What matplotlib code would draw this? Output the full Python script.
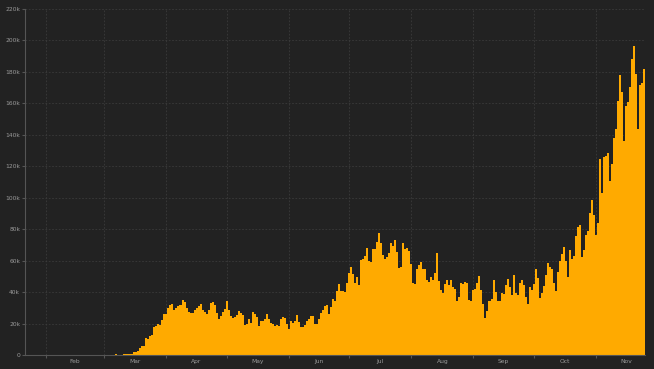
import numpy as np
import pandas as pd
import matplotlib
matplotlib.use("Agg")
import matplotlib.pyplot as plt
import matplotlib.dates as mdates
from matplotlib.ticker import FuncFormatter

# Daily new cases (thousands), one value per day from 2020-01-22
start_date = "2020-01-22"
jan_feb = [0.0] * 39
march = [0.02, 0.03, 0.05, 0.03, 0.07, 0.1, 0.6, 0.15, 0.2, 0.3, 0.45, 0.45, 0.6, 0.6, 0.8,
         1.7, 2.0, 2.8, 4.5, 6.0, 6.0, 11.0, 10.0, 12.0, 12.5, 17.8, 18.6, 19.5, 19.1, 22.0, 25.9]
april = [25.9, 29.9, 31.6, 32.6, 28.3, 30.0, 31.0, 32.0, 34.7, 33.5, 30.0, 27.3, 26.4, 27.0, 28.5,
         30.0, 31.0, 32.6, 28.3, 27.5, 25.9, 28.5, 33.0, 33.5, 32.0, 26.5, 22.8, 24.8, 27.6, 29.0]
may = [34.2, 28.3, 24.8, 23.5, 24.4, 25.2, 27.8, 26.7, 25.2, 19.3, 19.7, 22.7, 20.5, 27.4, 25.9,
       24.4, 18.5, 21.8, 21.4, 23.1, 25.9, 23.1, 20.5, 19.5, 18.5, 19.3, 18.5, 22.7, 24.4, 23.7, 19.7]
june = [16.8, 21.4, 20.5, 21.4, 25.2, 21.2, 18.0, 17.6, 18.9, 21.4, 23.1, 25.0, 25.0, 19.4, 19.4,
        23.2, 26.5, 28.3, 31.2, 31.6, 26.1, 30.8, 35.8, 34.5, 40.4, 45.1, 40.9, 40.4, 40.0, 45.9]
july = [51.9, 55.7, 51.5, 45.9, 49.3, 44.2, 60.4, 60.8, 63.0, 68.0, 59.5, 59.1, 67.2, 67.6, 71.8,
        77.3, 71.4, 63.4, 60.8, 62.1, 65.1, 71.4, 69.3, 73.1, 65.5, 55.3, 56.2, 71.4, 67.6, 68.0, 66.0]
august = [57.8, 45.6, 45.2, 54.8, 57.0, 59.0, 54.5, 54.8, 48.0, 46.4, 49.3, 48.0, 51.9, 64.6, 46.8,
          41.5, 39.4, 45.2, 47.7, 44.8, 47.7, 43.5, 41.9, 34.2, 36.7, 45.6, 45.2, 46.4, 45.6, 35.0, 34.5]
september = [41.5, 41.9, 45.6, 50.2, 41.5, 32.2, 23.5, 27.8, 34.2, 35.4, 47.7, 39.8, 34.2, 34.6,
             39.2, 38.8, 44.7, 48.5, 43.0, 38.3, 51.0, 39.2, 38.3, 45.5, 47.6, 44.2, 37.1, 32.4, 43.0, 41.3]
october = [45.1, 54.4, 48.9, 36.3, 39.2, 43.8, 50.6, 58.3, 56.1, 54.9, 46.0, 40.9, 52.8, 59.5, 64.2,
           68.4, 59.5, 49.8, 66.7, 61.2, 62.9, 75.7, 81.6, 82.8, 62.0, 66.7, 76.0, 79.0, 90.4, 98.5, 88.8]
november = [76.0, 83.7, 124.8, 102.8, 126.0, 126.5, 128.2, 110.4, 121.4, 137.9, 143.4, 161.7, 177.8,
            167.2, 136.2, 158.3, 160.8, 170.6, 187.9, 196.4, 178.6, 143.4, 171.9, 173.1, 181.6]

cases_k = jan_feb + march + april + may + june + july + august + september + october + november
dates = pd.date_range(start_date, periods=len(cases_k), freq="D")
cases = np.array(cases_k) * 1000

bg = "#222222"
grid_col = "#3b3b3b"
text_col = "#9a9a9a"
bar_col = "#ffaa00"

fig = plt.figure(figsize=(6.54, 3.69), dpi=100, facecolor=bg)
ax = fig.add_axes([25 / 654, 1 - 355 / 369, 620 / 654, 346 / 369])
ax.set_facecolor(bg)

ax.bar(dates, cases, width=1.0, color=bar_col, linewidth=0, zorder=2)

ax.set_ylim(0, 220000)
ax.set_yticks(np.arange(0, 220001, 20000))
ax.yaxis.set_major_formatter(FuncFormatter(lambda v, p: "0" if v == 0 else f"{int(v / 1000)}k"))

ax.set_xlim(dates[0] - pd.Timedelta(hours=12), dates[-1] + pd.Timedelta(hours=12))

# gridlines on month starts, labels in the middle of each month
ax.xaxis.set_major_locator(mdates.MonthLocator())
ax.xaxis.set_major_formatter(plt.NullFormatter())
mids = []
names = []
for m in range(2, 12):
    first = pd.Timestamp(2020, m, 1)
    mids.append(first + pd.Timedelta(days=first.days_in_month / 2))
    names.append(first.strftime("%b"))
ax.set_xticks(mids, minor=True)
ax.set_xticklabels(names, minor=True)

ax.grid(True, which="major", color=grid_col, linestyle=(0, (2, 2)), linewidth=0.6, zorder=0)
ax.tick_params(axis="x", which="major", length=2, color="#555555")
ax.tick_params(axis="x", which="minor", length=0, pad=3, labelsize=4.3, labelcolor=text_col)
ax.tick_params(axis="y", length=2, pad=1.5, color="#555555", labelsize=4.3, labelcolor=text_col)

for s in ["top", "right"]:
    ax.spines[s].set_visible(False)
for s in ["left", "bottom"]:
    ax.spines[s].set_color("#555555")
    ax.spines[s].set_linewidth(0.8)

plt.savefig("out.png", dpi=100, facecolor=bg)
